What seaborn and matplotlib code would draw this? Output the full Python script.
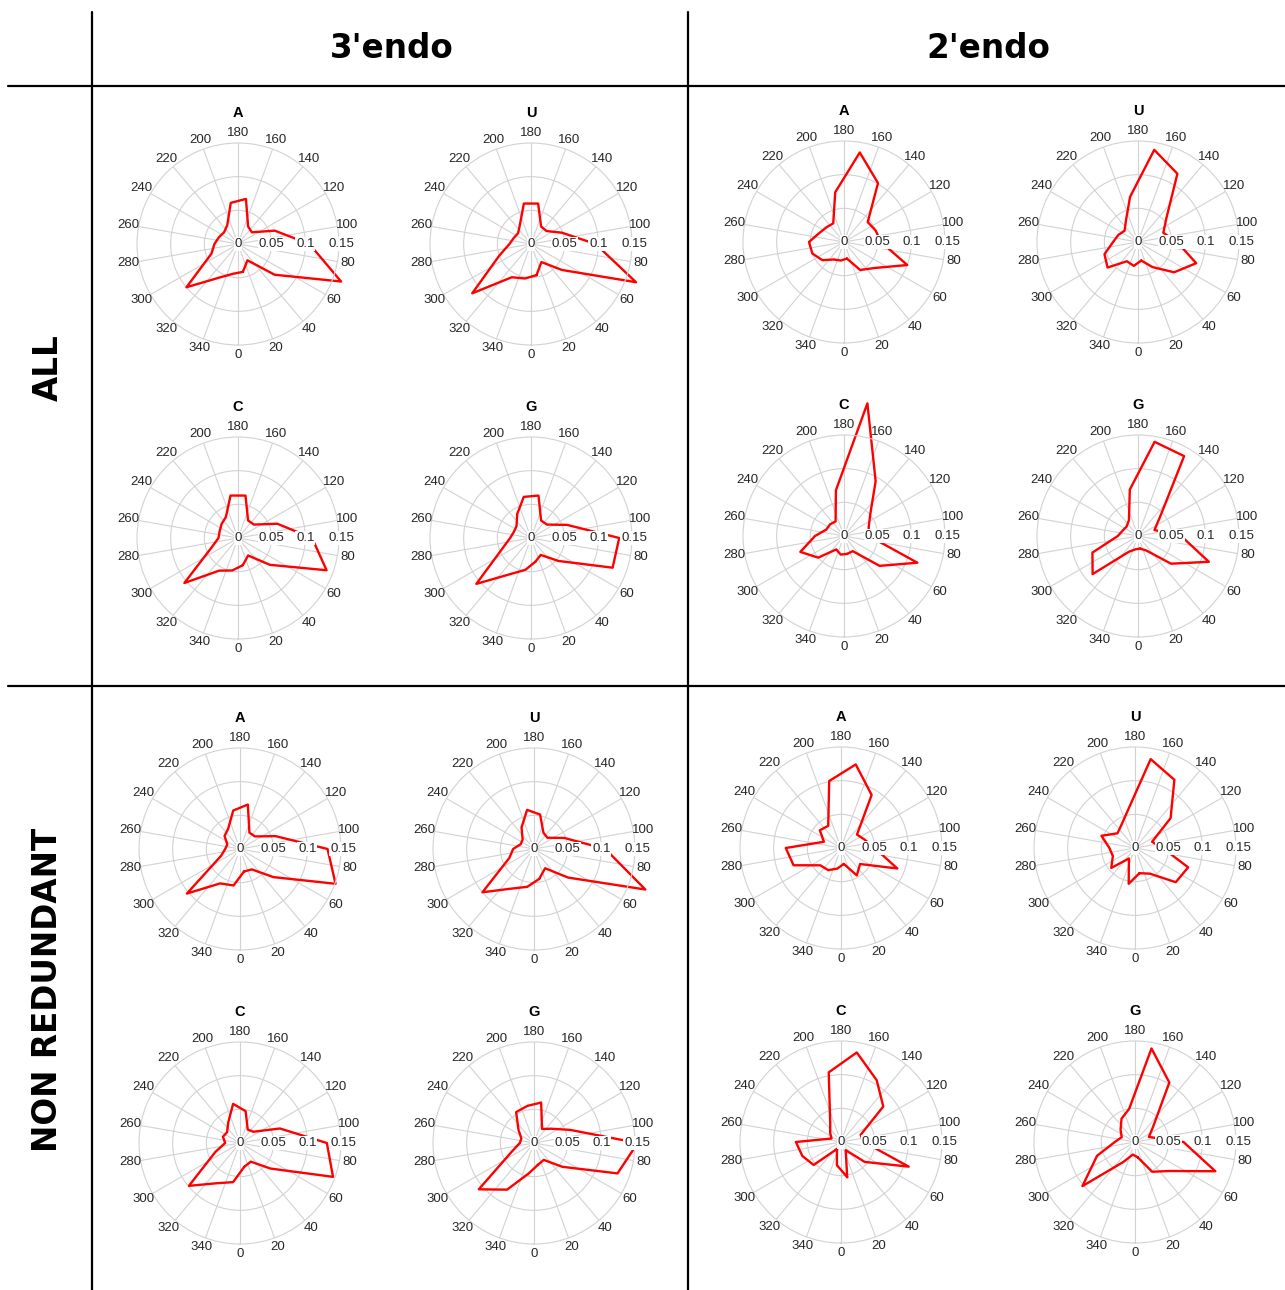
import numpy as np
import matplotlib
matplotlib.use("Agg")
import matplotlib.pyplot as plt
from matplotlib.lines import Line2D
import seaborn as sns

# ---------------- data ----------------
angles = [10, 30, 50, 70, 90, 110, 130, 150, 170, 190, 210, 230, 250, 270, 290, 310, 330, 350]
tick_angles = [0, 20, 40, 60, 80, 100, 120, 140, 160, 180, 200, 220, 240, 260, 280, 300, 320, 340]
radial_ticks = [0.05, 0.1, 0.15]
radial_labels = ["0.05", "0.1", "0.15"]
col_headers = ["3'endo", "2'endo"]
row_headers = ["ALL", "NON REDUNDANT"]
bases = ["A", "U", "C", "G"]

all_3endo_A = [0.042, 0.028, 0.071, 0.163, 0.106, 0.058, 0.027, 0.030, 0.068, 0.062, 0.032, 0.027, 0.030, 0.035, 0.042, 0.100, 0.058, 0.045]
all_3endo_U = [0.047, 0.031, 0.060, 0.166, 0.096, 0.049, 0.030, 0.030, 0.061, 0.061, 0.033, 0.025, 0.027, 0.032, 0.050, 0.114, 0.057, 0.052]
all_3endo_C = [0.041, 0.030, 0.062, 0.140, 0.110, 0.062, 0.031, 0.030, 0.064, 0.064, 0.036, 0.032, 0.029, 0.029, 0.042, 0.104, 0.056, 0.049]
all_3endo_G = [0.036, 0.029, 0.053, 0.129, 0.131, 0.057, 0.031, 0.030, 0.064, 0.062, 0.041, 0.028, 0.027, 0.031, 0.045, 0.106, 0.062, 0.048]

all_2endo_A = [0.025, 0.048, 0.060, 0.100, 0.055, 0.050, 0.046, 0.101, 0.135, 0.075, 0.032, 0.034, 0.039, 0.052, 0.050, 0.042, 0.030, 0.028]
all_2endo_U = [0.028, 0.043, 0.070, 0.092, 0.058, 0.040, 0.055, 0.117, 0.139, 0.068, 0.036, 0.026, 0.031, 0.037, 0.053, 0.059, 0.033, 0.036]
all_2endo_C = [0.027, 0.026, 0.069, 0.116, 0.037, 0.039, 0.051, 0.094, 0.200, 0.069, 0.025, 0.027, 0.028, 0.043, 0.069, 0.050, 0.023, 0.028]
all_2endo_G = [0.019, 0.025, 0.064, 0.112, 0.064, 0.026, 0.042, 0.137, 0.142, 0.070, 0.027, 0.022, 0.024, 0.030, 0.072, 0.088, 0.027, 0.020]

nr_3endo_A = [0.034, 0.035, 0.065, 0.151, 0.130, 0.056, 0.029, 0.028, 0.067, 0.058, 0.035, 0.030, 0.020, 0.022, 0.030, 0.103, 0.059, 0.055]
nr_3endo_U = [0.045, 0.033, 0.066, 0.176, 0.106, 0.048, 0.026, 0.028, 0.052, 0.059, 0.037, 0.022, 0.021, 0.031, 0.039, 0.100, 0.068, 0.057]
nr_3endo_C = [0.036, 0.032, 0.059, 0.147, 0.129, 0.063, 0.026, 0.023, 0.048, 0.059, 0.035, 0.025, 0.027, 0.022, 0.039, 0.099, 0.069, 0.059]
nr_3endo_G = [0.033, 0.029, 0.055, 0.132, 0.154, 0.057, 0.033, 0.024, 0.061, 0.056, 0.053, 0.030, 0.020, 0.021, 0.034, 0.107, 0.080, 0.046]

nr_2endo_A = [0.024, 0.047, 0.037, 0.089, 0.050, 0.037, 0.031, 0.091, 0.126, 0.101, 0.038, 0.041, 0.027, 0.082, 0.075, 0.040, 0.038, 0.031]
nr_2endo_U = [0.038, 0.044, 0.079, 0.084, 0.041, 0.027, 0.069, 0.117, 0.134, 0.058, 0.040, 0.034, 0.053, 0.038, 0.035, 0.046, 0.018, 0.054]
nr_2endo_C = [0.053, 0.014, 0.046, 0.107, 0.034, 0.031, 0.082, 0.106, 0.135, 0.105, 0.032, 0.021, 0.015, 0.067, 0.061, 0.053, 0.012, 0.035]
nr_2endo_G = [0.023, 0.051, 0.067, 0.127, 0.072, 0.022, 0.035, 0.102, 0.141, 0.050, 0.040, 0.028, 0.021, 0.030, 0.060, 0.102, 0.034, 0.019]

# panels: (series, base label, centre x px, centre y px)
panels = [
    (all_3endo_A, "A", 238, 244), (all_3endo_U, "U", 531, 244),
    (all_3endo_C, "C", 238, 538), (all_3endo_G, "G", 531, 538),
    (all_2endo_A, "A", 844, 242), (all_2endo_U, "U", 1138, 242),
    (all_2endo_C, "C", 844, 536), (all_2endo_G, "G", 1138, 536),
    (nr_3endo_A, "A", 240, 849), (nr_3endo_U, "U", 534, 849),
    (nr_3endo_C, "C", 240, 1143), (nr_3endo_G, "G", 534, 1143),
    (nr_2endo_A, "A", 841, 848), (nr_2endo_U, "U", 1135, 848),
    (nr_2endo_C, "C", 841, 1142), (nr_2endo_G, "G", 1135, 1142),
]

# ---------------- figure ----------------
sns.set_theme(style="white")
plt.rcParams["font.family"] = ["Liberation Sans", "DejaVu Sans"]

W, H = 1285, 1290
fig = plt.figure(figsize=(W / 100, H / 100), dpi=100)
fig.patch.set_facecolor("white")

R = 101  # outer ring radius in px
RMAX = 0.15
GRID = "#d2d2d2"
TXT = "#262626"
FS = 9.5

for vals, base, cx, cy in panels:
    rect = [(cx - R) / W, (H - cy - R) / H, 2 * R / W, 2 * R / H]
    ax = fig.add_axes(rect, projection="polar")
    ax.set_theta_zero_location("S")
    ax.set_theta_direction(1)
    ax.set_facecolor("white")

    th = np.deg2rad(angles + [angles[0] + 360])
    rr = list(vals) + [vals[0]]
    sns.lineplot(x=th, y=rr, ax=ax, sort=False, estimator=None,
                 color="red", linewidth=1.7)
    for ln in ax.lines:
        ln.set_clip_on(False)
        ln.set_zorder(2)

    ax.set_ylim(0, RMAX)
    ax.set_xticks(np.deg2rad(tick_angles))
    ax.set_xticklabels([])
    ax.set_yticks(radial_ticks[:-1])
    ax.set_yticklabels([])
    ax.grid(True, color=GRID, linewidth=0.8)
    ax.spines["polar"].set_color(GRID)
    ax.spines["polar"].set_linewidth(0.8)
    ax.set_xlabel("")
    ax.set_ylabel("")
    ax.tick_params(length=0)

    for a in tick_angles:
        ax.text(np.deg2rad(a), RMAX * 1.1, str(a), ha="center", va="center",
                fontsize=FS, color=TXT, clip_on=False)
    bb = dict(facecolor="white", edgecolor="none", pad=0.6)
    ax.text(0, 0, "0", ha="center", va="center", fontsize=FS, color=TXT,
            bbox=bb, zorder=5, clip_on=False)
    for rv, lab in zip(radial_ticks, radial_labels):
        rpos = rv * 1.02 if rv == RMAX else rv
        ax.text(np.deg2rad(90), rpos, lab, ha="center", va="center", fontsize=FS,
                color=TXT, bbox=bb, zorder=5, clip_on=False)
    ax.text(np.pi, RMAX * 131 / R, base, ha="center", va="center", fontsize=10.5,
            fontweight="bold", color="black", clip_on=False)

# ---------------- header grid ----------------
def fx(x):
    return x / W

def fy(y):
    return 1 - y / H

lw = 1.6
fig.add_artist(Line2D([fx(8), fx(1285)], [fy(86), fy(86)], color="black", lw=lw))
fig.add_artist(Line2D([fx(8), fx(1285)], [fy(686), fy(686)], color="black", lw=lw))
fig.add_artist(Line2D([fx(92), fx(92)], [fy(12), fy(1290)], color="black", lw=lw))
fig.add_artist(Line2D([fx(688), fx(688)], [fy(12), fy(1290)], color="black", lw=lw))

hdr = dict(fontsize=23.5, fontweight="bold", color="black", family="DejaVu Sans",
           ha="center", va="center")
fig.text(fx(392), fy(48), col_headers[0], **hdr)
fig.text(fx(988), fy(48), col_headers[1], **hdr)
fig.text(fx(48), fy(368), row_headers[0], rotation=90, **hdr)
fig.text(fx(48), fy(990), row_headers[1], rotation=90, **hdr)

fig.savefig("out.png", dpi=100, facecolor="white")
